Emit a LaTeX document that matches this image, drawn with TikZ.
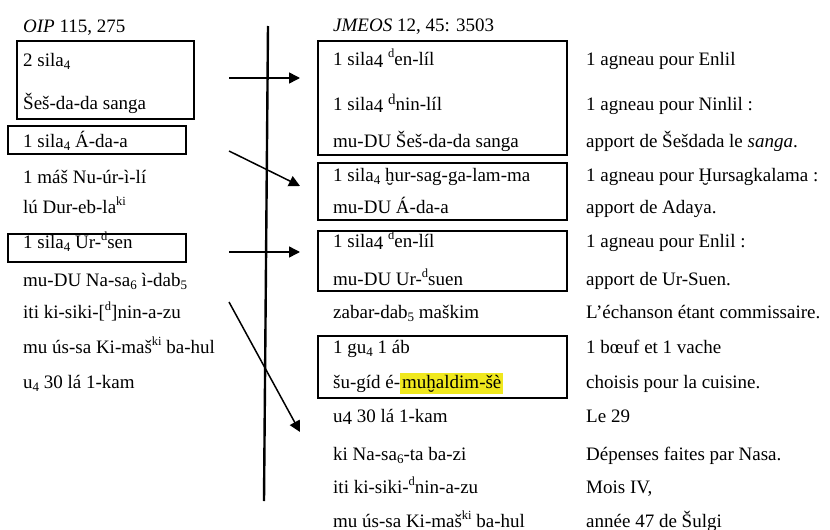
\documentclass[tikz,border=0pt]{standalone}
\usepackage{fontspec}
\setmainfont{Liberation Serif}
\usepackage{xcolor}
\usetikzlibrary{arrows.meta, positioning}
\definecolor{hilite}{RGB}{240,232,30}
\newcommand{\up}[1]{\raisebox{0.42em}{\fontsize{12.5}{12.5}\selectfont #1}}
\newcommand{\dn}[1]{\raisebox{-0.2em}{\fontsize{13}{13}\selectfont #1}}
\newcommand{\low}[1]{\raisebox{-0.12em}{#1}}
\newcommand{\bigd}{\raisebox{0.3em}{\fontsize{15}{15}\selectfont d}}
\setlength{\fboxsep}{2pt}

\begin{document}
\begin{tikzpicture}[x=1pt, y=-1pt, >={Triangle[length=11pt,width=11pt]},
    font=\fontsize{19}{23}\selectfont,
    txt/.style={anchor=base west, inner sep=0pt},
    frame/.style={draw, line width=1.1pt, inner sep=0pt},
    link/.style={->, line width=1.5pt}]

\useasboundingbox (0,0) rectangle (830,530);

\node[frame, minimum width=177pt, minimum height=78pt] (lb1) at (105.5,80) {};
\node[frame, minimum width=178pt, minimum height=28pt] (lb2) at (97,140) {};
\node[frame, minimum width=178pt, minimum height=28pt] (lb3) at (97,248) {};
\node[frame, minimum width=249pt, minimum height=114pt] (mb1) at (442.5,98) {};
\node[frame, minimum width=249pt, minimum height=57pt] (mb2) at (442.5,191.5) {};
\node[frame, minimum width=249pt, minimum height=60pt] (mb3) at (442.5,261) {};
\node[frame, minimum width=249pt, minimum height=62pt] (mb4) at (442.5,367) {};

\node[txt] (l0) at (23,32) {\textit{OIP} 115, 275};
\node[txt] (l1) at (23,66) {2 sila\dn{4}};
\node[txt] (l2) at (23,109) {Šeš-da-da sanga};
\node[txt] (l3) at (23,147) {1 sila\dn{4} Á-da-a};
\node[txt] (l4) at (23,183) {1 máš Nu-úr-ì-lí};
\node[txt] (l5) at (23,213) {lú Dur-eb-la\up{ki}};
\node[txt] (l6) at (23,248) {1 sila\dn{4} Ur-\up{d}sen};
\node[txt] (l7) at (23,286) {mu-DU Na-sa\dn{6} ì-dab\dn{5}};
\node[txt] (l8) at (23,318) {iti ki-siki-[\up{d}]nin-a-zu};
\node[txt] (l9) at (23,353) {mu ús-sa Ki-maš\up{ki} ba-hul};
\node[txt] (l10) at (23,388) {u\dn{4} 30 lá 1-kam};

\node[txt] (m0) at (333,31) {\textit{JMEOS} 12, 45: 3503};
\node[txt] (m1) at (333,65) {1 sila\low{4} \up{d}en-líl};
\node[txt] (m2) at (333,110) {1 sila\low{4} \bigd nin-líl};
\node[txt] (m3) at (333,147) {mu-DU Šeš-da-da sanga};
\node[txt] (m4) at (333,181) {1 sila\dn{4} ḫur-sag-ga-lam-ma};
\node[txt] (m5) at (333,213) {mu-DU Á-da-a};
\node[txt] (m6) at (333,247) {1 sila\low{4} \up{d}en-líl};
\node[txt] (m7) at (333,285) {mu-DU Ur-\up{d}suen};
\node[txt] (m8) at (333,318) {zabar-dab\dn{5} maškim};
\node[txt] (m9) at (333,353) {1 gu\dn{4} 1 áb};
\node[txt] (m10) at (333,388) {šu-gíd é-\colorbox{hilite}{muḫaldim-šè}};
\node[txt] (m11) at (333,422) {u\low{4} 30 lá 1-kam};
\node[txt] (m12) at (333,460) {ki Na-sa\dn{6}-ta ba-zi};
\node[txt] (m13) at (333,493) {iti ki-siki-\up{d}nin-a-zu};
\node[txt] (m14) at (333,527) {mu ús-sa Ki-maš\up{ki} ba-hul};

\node[txt] (r1) at (586,65) {1 agneau pour Enlil};
\node[txt] (r2) at (586,110) {1 agneau pour Ninlil :};
\node[txt] (r3) at (586,147) {apport de Šešdada le \textit{sanga}.};
\node[txt] (r4) at (586,181) {1 agneau pour Ḫursagkalama :};
\node[txt] (r5) at (586,213) {apport de Adaya.};
\node[txt] (r6) at (586,247) {1 agneau pour Enlil :};
\node[txt] (r7) at (586,285) {apport de Ur-Suen.};
\node[txt] (r8) at (586,318) {L’échanson étant commissaire.};
\node[txt] (r9) at (586,353) {1 bœuf et 1 vache};
\node[txt] (r10) at (586,388) {choisis pour la cuisine.};
\node[txt] (r11) at (586,422) {Le 29};
\node[txt] (r12) at (586,460) {Dépenses faites par Nasa.};
\node[txt] (r13) at (586,493) {Mois IV,};
\node[txt] (r14) at (586,527) {année 47 de Šulgi};

\coordinate (top) at (268,26);
\coordinate (bot) at (264,501);
\draw[line width=2.4pt] (top) -- (bot);

\coordinate (s1) at (229,78);  \coordinate (e1) at (300,78);
\coordinate (s2) at (229,151); \coordinate (e2) at (300,186);
\coordinate (s3) at (229,252); \coordinate (e3) at (300,252);
\coordinate (s4) at (229,302); \coordinate (e4) at (300,432);
\draw[link] (s1) -- (e1);
\draw[link] (s2) -- (e2);
\draw[link] (s3) -- (e3);
\draw[link] (s4) -- (e4);

\end{tikzpicture}
\end{document}
